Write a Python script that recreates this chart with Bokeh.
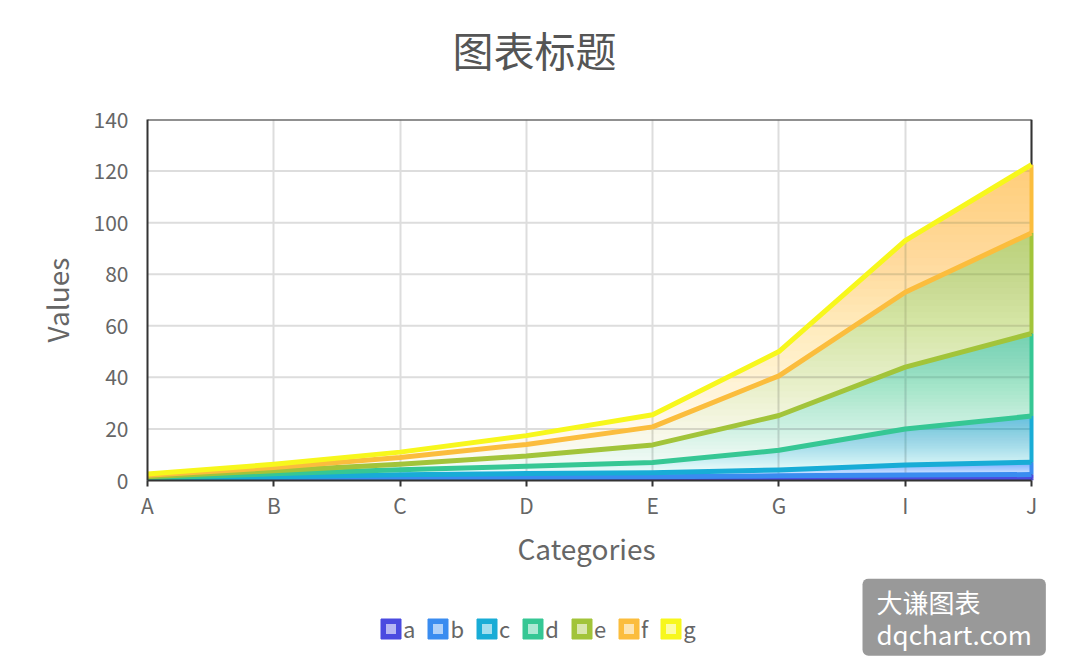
import numpy as np
from bokeh.plotting import figure
from bokeh.layouts import column
from bokeh.models import Range1d, FixedTicker, Label, Legend, LegendItem, Title
from bokeh.embed import file_html
from bokeh.resources import INLINE

# ---------------- data ----------------
categories = ["A", "B", "C", "D", "E", "G", "I", "J"]
series_names = ["a", "b", "c", "d", "e", "f", "g"]
a = [0.1, 0.2, 0.3, 0.4, 0.5, 0.6, 0.7, 0.8]
b = [0.2, 0.4, 0.6, 0.8, 1.0, 1.2, 1.4, 1.5]
c = [0.3, 0.9, 1.3, 1.5, 1.5, 2.3, 3.9, 4.8]
d = [0.4, 1.1, 2.0, 2.8, 4.0, 7.6, 14.0, 17.9]
e = [0.5, 1.2, 2.1, 4.0, 6.8, 13.5, 24.0, 32.0]
f = [0.5, 1.2, 2.6, 4.5, 7.0, 15.4, 29.0, 39.0]
g = [0.5, 1.3, 2.1, 3.4, 4.7, 9.4, 20.0, 26.5]
series_values = [a, b, c, d, e, f, g]
colors = ["#4b4be0", "#3a8cf0", "#18acd6", "#36c794", "#a2c43a", "#fbbd3d", "#f7f71c"]
y_ticks = [0, 20, 40, 60, 80, 100, 120, 140]
title_text = "图表标题"
x_title = "Categories"
y_title = "Values"
watermark = "大谦图表\ndqchart.com"

FONT = "Noto Sans CJK SC"
W = 1061
FRAME_L, PLOT_R = 147, 1031          # pixel layout of the plotting area
n_last = len(categories) - 1
x_end = n_last * (W - FRAME_L) / (PLOT_R - FRAME_L)
y_max = y_ticks[-1]

# ---------------- title strip ----------------
q0 = figure(width=W, height=100, output_backend="svg", toolbar_location=None,
            x_range=Range1d(0, 1), y_range=Range1d(0, 1),
            x_axis_type=None, y_axis_type=None,
            min_border_left=0, min_border_right=0, min_border_top=0,
            min_border_bottom=0)
q0.outline_line_color = None
q0.grid.visible = False
q0.add_layout(Label(x=534 - FRAME_L, y=52, x_units="screen", y_units="screen",
                    text=title_text, text_align="center", text_baseline="middle",
                    text_font=FONT, text_font_size="41px", text_color="#555555"))

# ---------------- main plot ----------------
p = figure(width=W, height=478, output_backend="svg", toolbar_location=None,
           x_range=Range1d(0, x_end), y_range=Range1d(0, y_max),
           min_border_left=FRAME_L, min_border_right=0, min_border_top=19,
           min_border_bottom=98)
p.background_fill_color = "white"
p.border_fill_color = "white"
p.outline_line_color = None

# axes
p.xaxis.ticker = FixedTicker(ticks=list(range(len(categories))))
p.xaxis.major_label_overrides = {i: cat for i, cat in enumerate(categories)}
p.xaxis.bounds = (0, n_last)
p.yaxis.ticker = FixedTicker(ticks=y_ticks)
for ax in (p.xaxis[0], p.yaxis[0]):
    ax.axis_line_color = "#333333"
    ax.axis_line_width = 2
    ax.minor_tick_line_color = None
    ax.major_label_text_font = FONT
    ax.major_label_text_font_size = "21px"
    ax.major_label_text_color = "#666666"
    ax.axis_label_text_font = FONT
    ax.axis_label_text_font_size = "28px"
    ax.axis_label_text_color = "#666666"
    ax.axis_label_text_font_style = "normal"
p.xaxis.major_tick_in = 0
p.xaxis.major_tick_out = 6
p.xaxis.major_tick_line_color = "#333333"
p.xaxis.major_tick_line_width = 2
p.xaxis.major_label_standoff = 3
p.yaxis.major_tick_in = 0
p.yaxis.major_tick_out = 0
p.yaxis.major_label_standoff = 19
p.yaxis.axis_label = y_title
p.yaxis.axis_label_standoff = 14

# x-axis title, centred under the category span
p.add_layout(Title(text=x_title, align="left", offset=370, standoff=6,
                   text_font=FONT, text_font_size="28px", text_font_style="normal",
                   text_color="#666666"), "below")

p.xgrid.grid_line_color = "#dddddd"
p.xgrid.grid_line_width = 2
p.ygrid.visible = False
# horizontal grid lines limited to the category span
p.segment(x0=[0] * len(y_ticks), y0=y_ticks, x1=[n_last] * len(y_ticks), y1=y_ticks,
          line_color="#dddddd", line_width=2)
# frame: top and right border
p.segment(x0=[0, n_last], y0=[y_max, 0], x1=[n_last, n_last], y1=[y_max, y_max],
          line_color="#333333", line_width=2)

# stacked values
xs = np.arange(len(categories), dtype=float)
cum = np.cumsum(np.array(series_values, dtype=float), axis=0)
zeros = np.zeros(len(categories))

# gradient-filled bands (vertical fade towards the bottom)
SUB = 40
xd = np.linspace(0, xs[-1], (len(xs) - 1) * SUB + 1)
N = 40
AMAX = 0.62
for k in range(len(series_names)):
    lower = cum[k - 1] if k > 0 else zeros
    upper = cum[k]
    Ld = np.interp(xd, xs, lower)
    Ud = np.interp(xd, xs, upper)
    ymin, ymax = lower.min(), upper.max()
    col = colors[max(k - 1, 0)]
    prev = 0.0
    for i in range(N):
        t = ymin + (ymax - ymin) * i / N
        target = AMAX * (i + 1) / N
        ai = 1 - (1 - target) / (1 - prev)
        prev = target
        y1 = np.minimum(np.maximum(Ld, t), Ud)
        p.varea(x=xd, y1=y1, y2=Ud, fill_color=col, fill_alpha=ai)

# edge of bands at the last category
lowers_last = [0.0] + [float(cum[k - 1][-1]) for k in range(1, len(series_names))]
uppers_last = [float(cum[k][-1]) for k in range(len(series_names))]
edge_cols = [colors[max(k - 1, 0)] for k in range(len(series_names))]
p.segment(x0=[xs[-1]] * len(series_names), y0=lowers_last,
          x1=[xs[-1]] * len(series_names), y1=uppers_last,
          line_color=edge_cols, line_width=4)

# lines
for k, name in enumerate(series_names):
    p.line(xs, cum[k], line_color=colors[k], line_width=5, line_join="round")

# ---------------- bottom strip: legend + watermark ----------------
q = figure(width=W, height=86, output_backend="svg", toolbar_location=None,
           x_range=Range1d(0, 1), y_range=Range1d(0, 1),
           x_axis_type=None, y_axis_type=None,
           min_border_left=0, min_border_right=0, min_border_top=0,
           min_border_bottom=0)
q.outline_line_color = None
q.grid.visible = False

items = []
for name, col in zip(series_names, colors):
    r1 = q.quad(left=[-10], right=[-9], top=[-9], bottom=[-10],
                fill_color=col, line_color=col)
    r2 = q.scatter(x=[-10], y=[-10], marker="square", size=8, fill_color="white",
                   fill_alpha=0.6, line_alpha=0)
    items.append(LegendItem(label=name, renderers=[r1, r2]))
legend = Legend(items=items, orientation="horizontal", location=(231, 20),
                label_text_font=FONT, label_text_font_size="22px",
                label_text_color="#666666", glyph_width=25, glyph_height=25,
                label_standoff=0, label_width=0, spacing=10, padding=0, margin=0,
                border_line_color=None, background_fill_alpha=0)
q.add_layout(legend, "center")

q.add_layout(Label(x=862 - FRAME_L, y=86, x_units="screen", y_units="screen",
                   text=watermark, text_align="left", text_baseline="top",
                   text_font=FONT, text_font_size="26px", text_color="white",
                   text_line_height=0.87,
                   background_fill_color="#999999", padding=(14, 4),
                   border_radius=6))

layout = column(q0, p, q, spacing=0)
open("out.html", "w").write(file_html(layout, INLINE))
